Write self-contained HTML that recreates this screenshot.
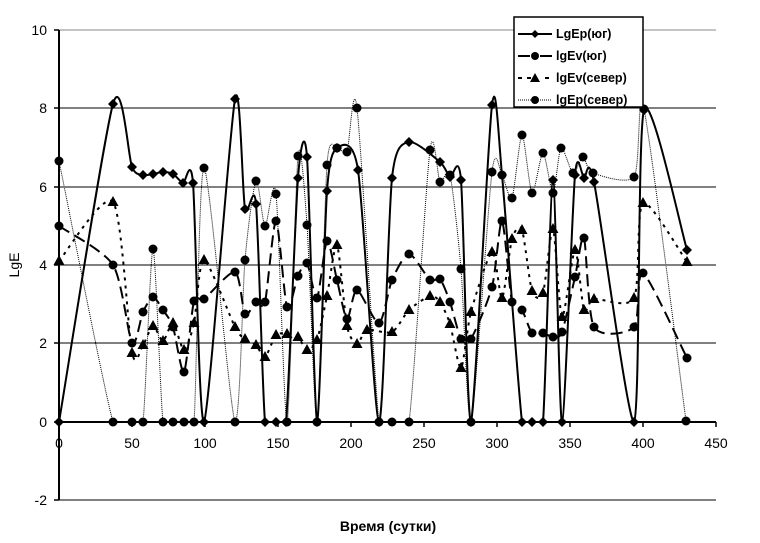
<!DOCTYPE html>
<html><head><meta charset="utf-8"><style>
html,body{margin:0;padding:0;background:#fff;width:760px;height:543px;overflow:hidden}
svg text{font-family:"Liberation Sans",Arial,sans-serif}
</style></head><body>
<svg id="s" width="760" height="543" xmlns="http://www.w3.org/2000/svg">
<rect width="760" height="543" fill="#fff"/>
<g stroke="#000" stroke-width="1">
<line x1="59" y1="30" x2="716" y2="30" stroke="#888"/>
<line x1="59" y1="108" x2="716" y2="108"/>
<line x1="59" y1="187" x2="716" y2="187"/>
<line x1="59" y1="265" x2="716" y2="265"/>
<line x1="59" y1="343" x2="716" y2="343"/>
<line x1="59" y1="500" x2="716" y2="500"/>
</g>
<line x1="59" y1="422" x2="716" y2="422" stroke="#000" stroke-width="2"/>
<line x1="59" y1="30" x2="59" y2="500" stroke="#000" stroke-width="2"/>
<g stroke="#000" stroke-width="1.5">
<line x1="54" y1="30" x2="59" y2="30"/><line x1="54" y1="108" x2="59" y2="108"/><line x1="54" y1="187" x2="59" y2="187"/><line x1="54" y1="265" x2="59" y2="265"/><line x1="54" y1="343" x2="59" y2="343"/><line x1="54" y1="422" x2="59" y2="422"/><line x1="54" y1="500" x2="59" y2="500"/>
<line x1="132" y1="422" x2="132" y2="427"/><line x1="205" y1="422" x2="205" y2="427"/><line x1="278" y1="422" x2="278" y2="427"/><line x1="351" y1="422" x2="351" y2="427"/><line x1="424" y1="422" x2="424" y2="427"/><line x1="497" y1="422" x2="497" y2="427"/><line x1="570" y1="422" x2="570" y2="427"/><line x1="643" y1="422" x2="643" y2="427"/><line x1="716" y1="422" x2="716" y2="427"/>
</g>
<g font-size="14" text-anchor="end">
<text x="47" y="35">10</text><text x="47" y="113">8</text><text x="47" y="192">6</text><text x="47" y="270">4</text><text x="47" y="348">2</text><text x="47" y="427">0</text><text x="47" y="505">-2</text>
</g>
<g font-size="14" text-anchor="middle">
<text x="59" y="448">0</text><text x="132" y="448">50</text><text x="205" y="448">100</text><text x="278" y="448">150</text><text x="351" y="448">200</text><text x="424" y="448">250</text><text x="497" y="448">300</text><text x="570" y="448">350</text><text x="643" y="448">400</text><text x="716" y="448">450</text>
</g>
<text x="388" y="531" font-size="14" font-weight="bold" text-anchor="middle">Время (сутки)</text>
<text transform="translate(19,265) rotate(-90)" font-size="14" text-anchor="middle">LgE</text>
<g id="series"></g>
<rect x="514" y="17" width="129" height="90" fill="#fff" stroke="#000" stroke-width="1.5"/>
<g font-size="12.5" font-weight="bold">
<text x="556" y="38">LgEp(юг)</text>
<text x="556" y="60">lgEv(юг)</text>
<text x="556" y="82">lgEv(север)</text>
<text x="556" y="104">lgEp(север)</text>
</g>
<g stroke="#000">
<line x1="518" y1="34" x2="552" y2="34" stroke-width="2"/>
<path d="M518 56h12M540 56h12" stroke-width="2"/>
<path d="M518 78h4M527 78h4M545 78h4" stroke-width="2"/>
<line x1="518" y1="100" x2="552" y2="100" stroke-width="1" stroke-dasharray="1,1"/>
</g>
<polygon points="535,30 539,34 535,38 531,34" fill="#000"/>
<circle cx="535" cy="56" r="4" fill="#000"/>
<polygon points="535,73 540,82 530,82" fill="#000"/>
<circle cx="535" cy="100" r="4" fill="#000"/>
</svg>
<script>
function cl(y){return Math.min(y,423);}
function path(p){var d="M"+p[0][0]+" "+p[0][1];for(var i=0;i<p.length-1;i++){var p0=p[i-1]||p[i],p1=p[i],p2=p[i+1],p3=p[i+2]||p2;var t=8;
var c1x=p1[0]+(p2[0]-p0[0])/t,c1y=cl(p1[1]+(p2[1]-p0[1])/t),c2x=p2[0]-(p3[0]-p1[0])/t,c2y=cl(p2[1]-(p3[1]-p1[1])/t);
if(p1[1]>=421&&p2[1]>=421){c1y=p1[1];c2y=p2[1];}
d+=" C"+c1x.toFixed(1)+" "+c1y.toFixed(1)+" "+c2x.toFixed(1)+" "+c2y.toFixed(1)+" "+p2[0]+" "+p2[1];}return d;}
var A=[[59,422],[113,104],[132,167],[143,175],[153,174],[163,172],[173,174],[183,183],[193,183],[204,422],[235,99],[245,209],[256,204],[265,422],[276,422],[286,422],[298,178],[307,157],[317,422],[327,191],[337,148],[358,170],[379,422],[392,178],[409,142],[440,162],[450,177],[461,180],[471,422],[492,105],[502,175],[522,422],[532,422],[543,422],[553,180],[562,422],[575,175],[584,178],[594,182],[634,422],[644,110],[687,250]];
var B=[[59,226],[113,265],[132,343],[143,312],[153,297],[163,310],[173,327],[184,372],[194,301],[204,299],[235,272],[245,314],[256,302],[265,302],[276,221],[287,307],[298,276],[307,263],[317,298],[327,241],[337,280],[347,319],[357,290],[379,323],[392,280],[409,254],[430,280],[440,279],[450,302],[461,339],[471,339],[492,287],[502,221],[512,302],[522,310],[532,333],[543,333],[553,337],[562,332],[575,277],[584,238],[594,327],[634,327],[643,273],[687,358]];
var C=[[59,261],[113,202],[132,353],[143,345],[153,326],[163,341],[173,323],[184,350],[194,323],[204,260],[235,327],[245,339],[256,345],[265,357],[276,335],[287,334],[298,337],[307,350],[317,340],[327,296],[337,245],[347,326],[357,344],[367,330],[392,332],[409,310],[430,296],[440,302],[450,324],[461,368],[471,312],[492,252],[502,298],[512,239],[522,230],[532,291],[543,293],[553,229],[562,317],[575,250],[584,310],[594,299],[634,298],[643,203],[687,262]];
var D=[[59,161],[113,422],[132,422],[143,422],[153,249],[163,422],[173,422],[184,422],[194,422],[204,168],[235,422],[245,260],[256,181],[265,226],[276,194],[287,422],[298,156],[307,225],[317,422],[327,165],[337,148],[347,152],[357,108],[379,422],[392,422],[409,422],[430,150],[440,182],[450,175],[461,269],[471,422],[492,172],[502,175],[512,198],[522,135],[532,193],[543,153],[553,193],[561,148],[573,173],[583,157],[593,173],[634,177],[644,109],[686,421]];
var g="";
g+='<path d="'+path(D)+'" fill="none" stroke="#000" stroke-width="1" stroke-dasharray="1,1"/>';
g+='<path d="'+path(C)+'" fill="none" stroke="#000" stroke-width="2" stroke-dasharray="3,5"/>';
g+='<path d="'+path(B)+'" fill="none" stroke="#000" stroke-width="2" stroke-dasharray="12,6"/>';
g+='<path d="'+path(A)+'" fill="none" stroke="#000" stroke-width="2"/>';
A.forEach(function(p){g+='<polygon points="'+p[0]+','+(p[1]-5)+' '+(p[0]+5)+','+p[1]+' '+p[0]+','+(p[1]+5)+' '+(p[0]-5)+','+p[1]+'"/>';});
B.forEach(function(p){g+='<circle cx="'+p[0]+'" cy="'+p[1]+'" r="4.5"/>';});
C.forEach(function(p){g+='<polygon points="'+p[0]+','+(p[1]-6)+' '+(p[0]+5.5)+','+(p[1]+4)+' '+(p[0]-5.5)+','+(p[1]+4)+'"/>';});
D.forEach(function(p){g+='<circle cx="'+p[0]+'" cy="'+p[1]+'" r="4.5"/>';});
document.getElementById("series").innerHTML=g;
</script>
</body></html>
